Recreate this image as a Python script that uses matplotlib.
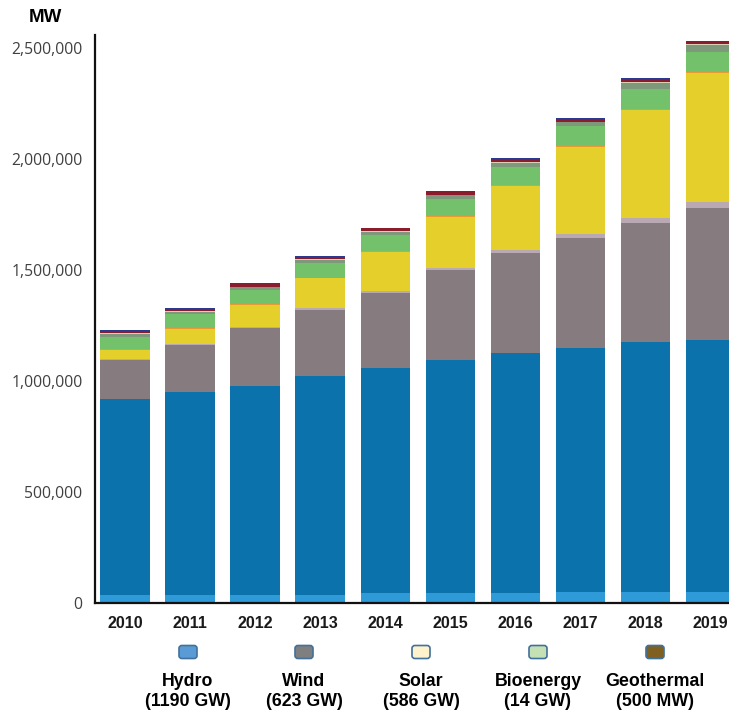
import matplotlib
matplotlib.use("Agg")
import matplotlib.pyplot as plt
from matplotlib.patches import FancyBboxPatch
import numpy as np

years = ["2010", "2011", "2012", "2013", "2014", "2015", "2016", "2017", "2018", "2019"]

# Stacked layers (MW), bottom to top
mixed_hydro   = [36000, 36000, 36000, 38000, 45000, 46000, 47000, 48000, 49000, 50000]
hydro         = [883000, 914000, 941000, 985000, 1014000, 1049000, 1079000, 1101000, 1127000, 1135000]
onshore_wind  = [177000, 212000, 261000, 297000, 339000, 403000, 450000, 495000, 536000, 595000]
offshore_wind = [3000, 4000, 5000, 7000, 8000, 11000, 14000, 18000, 23000, 28000]
solar_pv      = [40000, 70000, 99000, 135000, 176000, 230000, 288000, 392000, 486000, 580000]
solar_csp     = [3000, 2000, 3000, 3000, 4000, 5000, 5000, 5000, 5000, 6000]
solid_bio     = [58000, 62000, 66000, 65000, 72000, 77000, 81000, 90000, 90000, 90000]
other_bio     = [12000, 12000, 12000, 16000, 14000, 15000, 20000, 16000, 27000, 30000]
waste_bio     = [2000, 2000, 2000, 3000, 3000, 3000, 3000, 3000, 3000, 3000]
geothermal    = [10000, 10000, 11000, 11000, 12000, 12000, 13000, 13000, 13000, 14000]
marine        = [4000, 4000, 4000, 4000, 4000, 4000, 3000, 4000, 4000, 2000]

layers = [mixed_hydro, hydro, onshore_wind, offshore_wind, solar_pv, solar_csp,
          solid_bio, other_bio, waste_bio, geothermal, marine]
layer_colors = ["#2e9bd8", "#0b72ab", "#867b7e", "#b9a9b3", "#e4cf2b", "#e89a33",
                "#74c16b", "#7d987a", "#d6d0b4", "#8b1c2b", "#2b3a8f"]

legend_labels = ["Hydro", "Wind", "Solar", "Bioenergy", "Geothermal"]
legend_caps = ["(1190 GW)", "(623 GW)", "(586 GW)", "(14 GW)", "(500 MW)"]
legend_colors = ["#5b9bd5", "#7f7f7f", "#fff2cc", "#c5e0b4", "#7f6020"]

yticks = [0, 500000, 1000000, 1500000, 2000000, 2500000]

fig = plt.figure(figsize=(7.29, 7.14), dpi=100)
ax = fig.add_axes([95/729, 111/714, 1 - 95/729, 568/714])

x = np.arange(len(years))
bottom = np.zeros(len(years))
for vals, c in zip(layers, layer_colors):
    v = np.array(vals, dtype=float)
    ax.bar(x, v, bottom=bottom, width=0.754, color=c, linewidth=0)
    bottom += v

ax.set_xlim(-0.4615, 9.292)
ax.set_ylim(0, 2.5586e6)
ax.set_xticks(x)
ax.set_xticklabels(years, fontsize=11.5, fontweight="bold", family="Liberation Sans", color="#1a1a1a")
ax.set_yticks(yticks)
ax.set_yticklabels([f"{t:,}" for t in yticks], fontsize=11.3, family="Open Sans", color="#404040")
ax.tick_params(axis="both", length=0)
ax.tick_params(axis="x", pad=9)
ax.tick_params(axis="y", pad=9)
for s in ["top", "right"]:
    ax.spines[s].set_visible(False)
for s in ["left", "bottom"]:
    ax.spines[s].set_linewidth(1.6)
    ax.spines[s].set_color("#111111")

fig.text(45/729, 1 - 18/714, "MW", ha="center", va="center", fontsize=13.5,
         fontweight="bold", family="Liberation Sans")

centers = [188, 304, 421, 538, 655]
for cx, lab, cap, col in zip(centers, legend_labels, legend_caps, legend_colors):
    w, h = 18, 13
    p = FancyBboxPatch(((cx - w/2)/729, 1 - (652 + h/2)/714), w/729, h/714,
                       boxstyle="round,pad=0,rounding_size=0.004",
                       transform=fig.transFigure, facecolor=col,
                       edgecolor="#41719c", linewidth=1.2)
    fig.patches.append(p)
    fig.text(cx/729, 1 - 681/714, lab, ha="center", va="center", fontsize=12.8,
             fontweight="bold", family="Liberation Sans")
    fig.text(cx/729, 1 - 702/714, cap, ha="center", va="center", fontsize=12.8,
             fontweight="bold", family="Liberation Sans")

fig.savefig("out.png", dpi=100)
